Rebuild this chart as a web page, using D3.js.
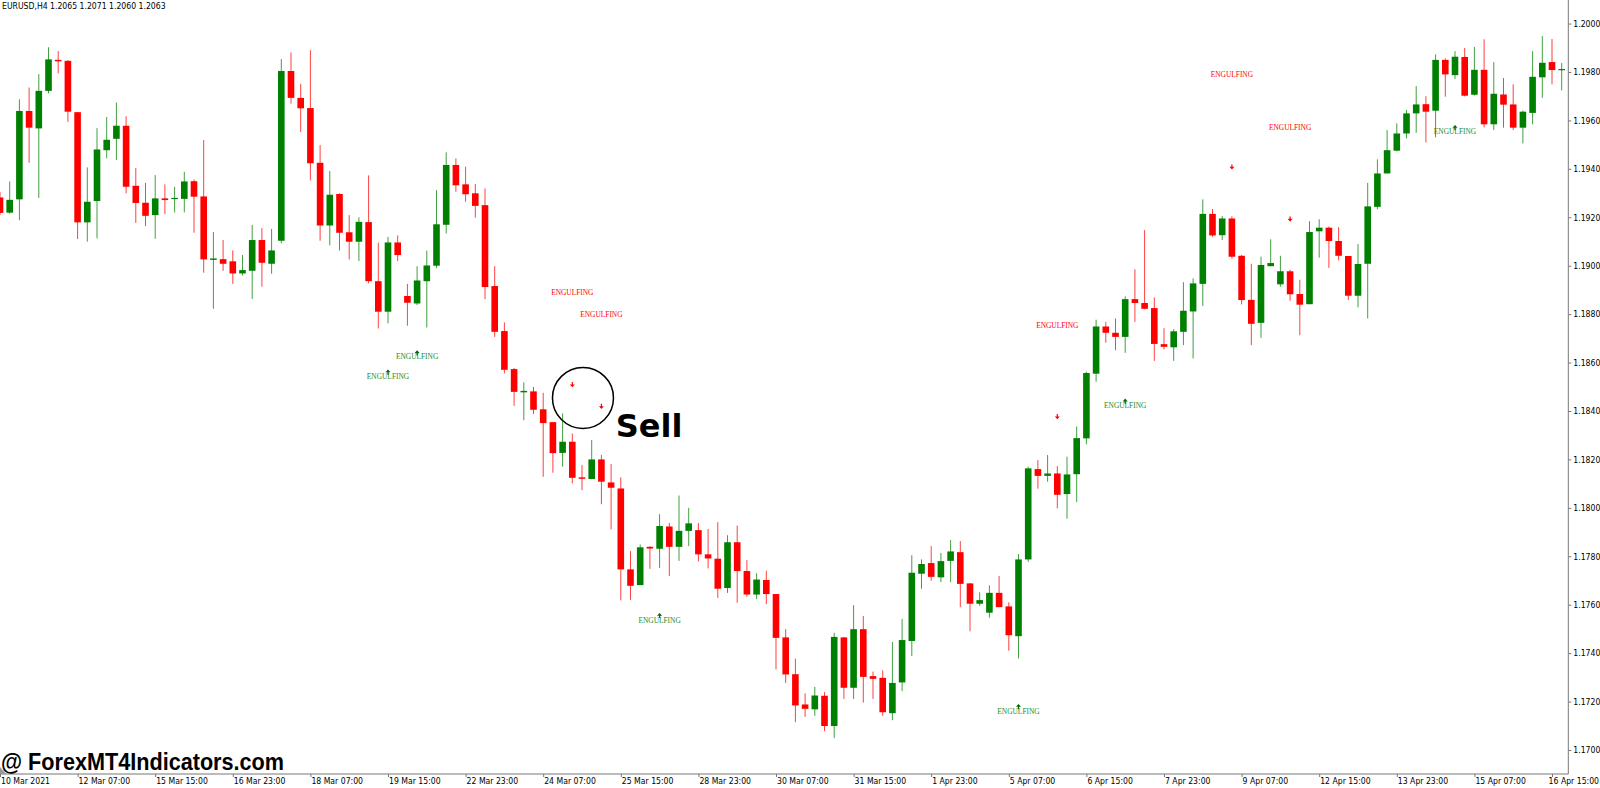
<!DOCTYPE html>
<html><head><meta charset="utf-8">
<script src="https://cdn.jsdelivr.net/npm/d3@7"></script>
<style>html,body{margin:0;padding:0;background:#fff;overflow:hidden}</style>
</head><body>
<svg id="chart" width="1600" height="788"></svg>
<script>
// ---- data (EURUSD H4) ----
const open = [
1.19282,1.19219,1.19274,1.19639,1.19567,1.19722,1.19850,1.19846,1.19634,1.19179,
1.19267,1.19477,1.19524,1.19578,1.19330,1.19260,1.19209,1.19278,1.19276,1.19276,
1.19349,1.19286,1.19024,1.19027,1.19018,1.18968,1.18979,1.19106,1.19008,1.19103,
1.19804,1.19693,1.19651,1.19425,1.19166,1.19296,1.19138,1.19099,1.19180,1.18936,
1.18810,1.19096,1.18875,1.18844,1.18936,1.19000,1.19169,1.19416,1.19336,1.19299,
1.19250,1.18916,1.18730,1.18573,1.18477,1.18481,1.18407,1.18354,1.18227,1.18273,
1.18126,1.18119,1.18200,1.18105,1.18080,1.17746,1.17681,1.17839,1.17831,1.17923,
1.17839,1.17905,1.17908,1.17808,1.17790,1.17669,1.17858,1.17739,1.17642,1.17702,
1.17644,1.17465,1.17313,1.17188,1.17168,1.17224,1.17099,1.17465,1.17257,1.17499,
1.17305,1.17298,1.17152,1.17279,1.17450,1.17728,1.17772,1.17713,1.17781,1.17817,
1.17688,1.17604,1.17567,1.17649,1.17593,1.17470,1.17787,1.18160,1.18132,1.18142,
1.18057,1.18139,1.18287,1.18554,1.18749,1.18723,1.18706,1.18862,1.18846,1.18825,
1.18676,1.18663,1.18727,1.18811,1.18925,1.19214,1.19126,1.19195,1.19041,1.18859,
1.18764,1.18998,1.18923,1.18977,1.18883,1.18841,1.19142,1.19157,1.19102,1.19040,
1.18876,1.19008,1.19243,1.19381,1.19475,1.19546,1.19629,1.19667,1.19640,1.19850,
1.19787,1.19862,1.19706,1.19809,1.19584,1.19707,1.19666,1.19570,1.19631,1.19778,
1.19841,1.19809];
const high = [
1.19304,1.19348,1.19687,1.19736,1.19791,1.19902,1.19886,1.19849,1.19634,1.19406,
1.19568,1.19614,1.19674,1.19617,1.19403,1.19342,1.19374,1.19336,1.19325,1.19388,
1.19356,1.19519,1.19139,1.19106,1.19063,1.19044,1.19168,1.19155,1.19152,1.19853,
1.19881,1.19751,1.19890,1.19498,1.19391,1.19299,1.19209,1.19200,1.19373,1.19095,
1.19119,1.19125,1.18925,1.18998,1.19062,1.19312,1.19468,1.19443,1.19409,1.19337,
1.19319,1.18998,1.18766,1.18578,1.18518,1.18499,1.18475,1.18354,1.18390,1.18307,
1.18177,1.18280,1.18219,1.18181,1.18126,1.17821,1.17849,1.17842,1.17974,1.17938,
1.18051,1.18000,1.17937,1.17913,1.17941,1.17887,1.17927,1.17784,1.17730,1.17740,
1.17644,1.17499,1.17377,1.17234,1.17261,1.17239,1.17484,1.17467,1.17598,1.17553,
1.17324,1.17329,1.17446,1.17541,1.17804,1.17787,1.17842,1.17814,1.17867,1.17863,
1.17690,1.17651,1.17680,1.17719,1.17610,1.17809,1.18170,1.18197,1.18218,1.18172,
1.18211,1.18336,1.18562,1.18777,1.18768,1.18782,1.18873,1.18985,1.19147,1.18869,
1.18742,1.18738,1.18932,1.18948,1.19274,1.19234,1.19205,1.19204,1.19044,1.19008,
1.19037,1.19109,1.19041,1.18983,1.18942,1.19184,1.19192,1.19162,1.19159,1.19040,
1.19089,1.19342,1.19439,1.19560,1.19588,1.19643,1.19742,1.19700,1.19873,1.19856,
1.19886,1.19899,1.19903,1.19935,1.19841,1.19775,1.19749,1.19641,1.19886,1.19948,
1.19936,1.19837];
const low = [
1.19209,1.19215,1.19188,1.19425,1.19280,1.19712,1.19794,1.19594,1.19110,1.19099,
1.19113,1.19443,1.19436,1.19299,1.19177,1.19164,1.19111,1.19213,1.19220,1.19220,
1.19136,1.18971,1.18822,1.18979,1.18925,1.18960,1.18863,1.18913,1.18967,1.19093,
1.19669,1.19552,1.19352,1.19103,1.19084,1.19063,1.19026,1.19019,1.18927,1.18741,
1.18762,1.19019,1.18752,1.18837,1.18745,1.18991,1.19133,1.19305,1.19264,1.19198,
1.18862,1.18706,1.18555,1.18421,1.18362,1.18387,1.18128,1.18145,1.18170,1.18101,
1.18073,1.18119,1.18015,1.17911,1.17618,1.17620,1.17681,1.17748,1.17752,1.17718,
1.17781,1.17842,1.17779,1.17750,1.17628,1.17649,1.17608,1.17633,1.17623,1.17602,
1.17333,1.17277,1.17115,1.17137,1.17141,1.17078,1.17049,1.17211,1.17211,1.17196,
1.17211,1.17141,1.17123,1.17243,1.17388,1.17666,1.17699,1.17693,1.17693,1.17590,
1.17490,1.17595,1.17546,1.17590,1.17410,1.17378,1.17777,1.18079,1.18108,1.17998,
1.17955,1.18024,1.18262,1.18521,1.18682,1.18651,1.18640,1.18768,1.18820,1.18607,
1.18654,1.18607,1.18672,1.18617,1.18834,1.19119,1.19106,1.19030,1.18840,1.18672,
1.18702,1.18998,1.18913,1.18855,1.18713,1.18841,1.19033,1.18991,1.19022,1.18858,
1.18828,1.18782,1.19233,1.19381,1.19472,1.19526,1.19549,1.19509,1.19530,1.19698,
1.19771,1.19699,1.19703,1.19571,1.19560,1.19570,1.19560,1.19505,1.19584,1.19693,
1.19749,1.19724];
const close = [
1.19218,1.19272,1.19639,1.19570,1.19722,1.19852,1.19844,1.19636,1.19179,1.19264,
1.19480,1.19520,1.19578,1.19326,1.19259,1.19206,1.19278,1.19271,1.19280,1.19348,
1.19285,1.19026,1.19030,1.19008,1.18968,1.18982,1.19106,1.19012,1.19063,1.19804,
1.19693,1.19650,1.19423,1.19166,1.19293,1.19136,1.19099,1.19181,1.18936,1.18810,
1.19096,1.19044,1.18847,1.18939,1.19001,1.19171,1.19416,1.19332,1.19295,1.19247,
1.18912,1.18727,1.18570,1.18479,1.18483,1.18405,1.18350,1.18226,1.18273,1.18124,
1.18120,1.18200,1.18108,1.18083,1.17746,1.17678,1.17837,1.17832,1.17925,1.17839,
1.17905,1.17936,1.17808,1.17791,1.17666,1.17858,1.17739,1.17642,1.17704,1.17644,
1.17463,1.17312,1.17184,1.17170,1.17225,1.17099,1.17467,1.17257,1.17499,1.17302,
1.17294,1.17156,1.17277,1.17454,1.17732,1.17768,1.17715,1.17780,1.17820,1.17686,
1.17604,1.17619,1.17649,1.17590,1.17474,1.17787,1.18163,1.18132,1.18142,1.18054,
1.18138,1.18288,1.18557,1.18749,1.18723,1.18706,1.18862,1.18846,1.18822,1.18677,
1.18665,1.18729,1.18814,1.18927,1.19214,1.19125,1.19195,1.19037,1.18858,1.18760,
1.19003,1.19011,1.18977,1.18882,1.18839,1.19139,1.19157,1.19102,1.19041,1.18876,
1.19007,1.19245,1.19381,1.19477,1.19546,1.19629,1.19666,1.19636,1.19850,1.19790,
1.19863,1.19702,1.19809,1.19584,1.19710,1.19665,1.19570,1.19636,1.19780,1.19838,
1.19808,1.19812];

const timeTickIndex = [0,8,16,24,32,40,48,56,64,72,80,88,96,104,112,120,128,136,144,152,160];
const timeTickLabels = ["10 Mar 2021","12 Mar 07:00","15 Mar 15:00","16 Mar 23:00","18 Mar 07:00",
  "19 Mar 15:00","22 Mar 23:00","24 Mar 07:00","25 Mar 15:00","28 Mar 23:00","30 Mar 07:00",
  "31 Mar 15:00","1 Apr 23:00","5 Apr 07:00","6 Apr 15:00","7 Apr 23:00","9 Apr 07:00",
  "12 Apr 15:00","13 Apr 23:00","15 Apr 07:00","16 Apr 15:00"];
const priceTicks = [1.1700,1.1720,1.1740,1.1760,1.1780,1.1800,1.1820,1.1840,1.1860,1.1880,
  1.1900,1.1920,1.1940,1.1960,1.1980,1.2000];

// engulfing signals
const sellIndex = [59,62,109,127,133];
const sellTextPrice = [1.18888,1.18799,1.18755,1.19788,1.19570];
const sellArrowPrice = [1.18507,1.18417,1.18375,1.19406,1.19191];
const buyIndex = [40,43,68,105,116,150];
const buyTextPrice = [1.18544,1.18627,1.17536,1.17161,1.18423,1.19553];
const buyArrowPrice = [1.18562,1.18642,1.17557,1.17181,1.18442,1.19572];

// annotation
const noteIndex = [60.1, 63.47];
const notePrice = [1.18454, 1.18293];
const titleText = "EURUSD,H4  1.2065 1.2071 1.2060 1.2063";
const watermark = "@ ForexMT4Indicators.com";

// ---- drawing ----
const W = 1600, H = 788, axisX = 1568.3, axisY = 774;
const svg = d3.select("#chart");
svg.append("rect").attr("width", W).attr("height", H).attr("fill", "#fff");

const x = d3.scaleLinear().domain([0, 160]).range([0, 1552]);
const y = d3.scaleLinear().domain([1.17, 1.20]).range([750, 23.55]);

const GREEN = "#008000", RED = "#ff0000";
const bars = d3.range(open.length).map(i => ({i, o: open[i], h: high[i], l: low[i], c: close[i]}));

svg.append("defs").append("clipPath").attr("id", "plot")
  .append("rect").attr("x", 0).attr("y", 0).attr("width", axisX).attr("height", axisY);
const plot = svg.append("g").attr("clip-path", "url(#plot)");

const bw = 6.6;
plot.selectAll("line.wick").data(bars).join("line").attr("class", "wick")
  .attr("x1", d => x(d.i)).attr("x2", d => x(d.i))
  .attr("y1", d => y(d.h)).attr("y2", d => y(d.l))
  .attr("stroke", d => d.c >= d.o ? GREEN : RED).attr("stroke-width", 1).attr("stroke-opacity", 0.75);
plot.selectAll("rect.body").data(bars).join("rect").attr("class", "body")
  .attr("x", d => x(d.i) - bw / 2).attr("width", bw)
  .attr("y", d => y(Math.max(d.o, d.c)))
  .attr("height", d => Math.max(1.2, Math.abs(y(d.o) - y(d.c))))
  .attr("fill", d => d.c >= d.o ? GREEN : RED);

// signals
const sig = svg.append("g").attr("font-family", "'Liberation Serif','Times New Roman',serif")
  .attr("font-size", "7.4px").attr("text-anchor", "middle").attr("dominant-baseline", "central");
sellIndex.forEach((idx, k) => {
  sig.append("text").attr("x", x(idx)).attr("y", y(sellTextPrice[k])).attr("fill", RED).text("ENGULFING");
  const ax = x(idx), ay = y(sellArrowPrice[k]);
  sig.append("path").attr("fill", RED)
    .attr("d", `M${ax-0.6},${ay-3}h1.2v2.4h1.9l-2.5,2.8l-2.5,-2.8h1.9z`);
});
buyIndex.forEach((idx, k) => {
  sig.append("text").attr("x", x(idx)).attr("y", y(buyTextPrice[k])).attr("fill", "#1e8c1e").text("ENGULFING");
  const ax = x(idx), ay = y(buyArrowPrice[k]);
  sig.append("path").attr("fill", "#006400")
    .attr("d", `M${ax-0.6},${ay+3}h1.2v-2.4h1.9l-2.5,-2.8l-2.5,2.8h1.9z`);
});

// annotation circle + Sell
svg.append("circle").attr("cx", x(noteIndex[0])).attr("cy", y(notePrice[0])).attr("r", 30.5)
  .attr("fill", "none").attr("stroke", "#000").attr("stroke-width", 1.5);
svg.append("text").attr("x", x(noteIndex[1])).attr("y", y(notePrice[1]))
  .attr("font-family", "'DejaVu Sans',sans-serif").attr("font-weight", "bold").attr("font-size", "32px")
  .attr("fill", "#000").text("Sell");

// axes lines
svg.append("line").attr("x1", axisX).attr("x2", axisX).attr("y1", 0).attr("y2", axisY)
  .attr("stroke", "#777").attr("stroke-width", 1);
svg.append("line").attr("x1", 0).attr("x2", axisX).attr("y1", axisY).attr("y2", axisY)
  .attr("stroke", "#777").attr("stroke-width", 1);

const axFont = "'DejaVu Sans Condensed','DejaVu Sans',sans-serif";
const yAxis = svg.append("g").attr("transform", `translate(${axisX},0)`)
  .call(d3.axisRight(y).tickValues(priceTicks).tickFormat(d3.format(".4f")).tickSize(3).tickPadding(2));
yAxis.select(".domain").remove();
yAxis.selectAll("line").attr("stroke", "#777");
yAxis.selectAll("text").attr("font-family", axFont).attr("font-size", "8.6px").attr("fill", "#000");

const xAxis = svg.append("g").attr("transform", `translate(0,${axisY})`)
  .call(d3.axisBottom(x).tickValues(timeTickIndex).tickFormat((d, i) => timeTickLabels[i]).tickSize(3).tickPadding(2));
xAxis.select(".domain").remove();
xAxis.selectAll("line").attr("stroke", "#777");
xAxis.selectAll("text").attr("font-family", axFont).attr("font-size", "8.6px").attr("fill", "#000")
  .attr("text-anchor", "start").attr("x", 0.5).attr("dy", "0.55em");
// keep the last date label inside the picture: right-align it to the edge
const lastIdx = timeTickIndex[timeTickIndex.length - 1];
xAxis.selectAll("text").filter(d => d === lastIdx)
  .attr("text-anchor", "end").attr("x", W - x(lastIdx) - 1.5);

// title
svg.append("text").attr("x", 2).attr("y", 8.5).attr("font-family", axFont).attr("font-size", "8.6px")
  .attr("fill", "#000").text(titleText);

// shift marker and watermark
svg.append("path").attr("d", `M0,${axisY-7}L6,${axisY}L0,${axisY}Z`).attr("fill", "#999");
svg.append("text").attr("x", 1).attr("y", 770).attr("font-family", "'Liberation Sans',Arial,sans-serif")
  .attr("font-weight", "bold").attr("font-size", "23px").attr("textLength", 283)
  .attr("lengthAdjust", "spacingAndGlyphs").attr("fill", "#000").text(watermark);
</script>
</body></html>
